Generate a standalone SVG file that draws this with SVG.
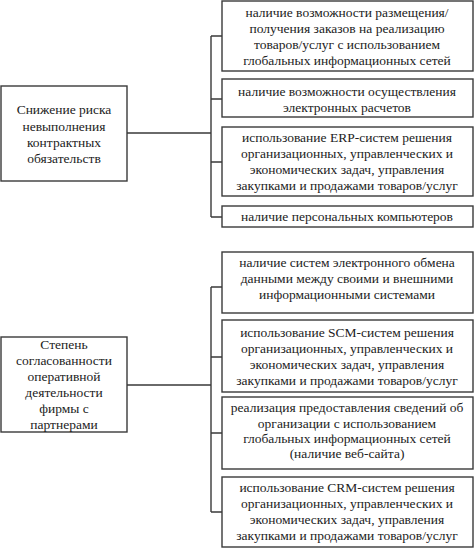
<svg xmlns="http://www.w3.org/2000/svg" width="474" height="550" viewBox="0 0 474 550">
<style>
rect{fill:#fff;stroke:#3a3a3a;stroke-width:1.4}
text{font-family:"Liberation Serif","Times New Roman",serif;font-size:13.5px;fill:#222;text-anchor:middle}
.c{fill:none;stroke:#3a3a3a;stroke-width:1.4}
</style>
<rect x="0" y="0" width="474" height="550" style="stroke:none"/>
<g id="connectors">
<path class="c" d="M127,133H211M211,36V217M211,36H222M211,99H222M211,162H222M211,217H222"/>
<path class="c" d="M127,385H211M211,287V512M211,287H222M211,357H222M211,433H222M211,512H222"/>
</g>
<g id="left1"><rect x="1" y="86" width="126" height="95"/>
<text x="64" y="114">Снижение риска</text><text x="64" y="131">невыполнения</text><text x="64" y="147">контрактных</text><text x="64" y="163">обязательств</text></g>
<g id="b1"><rect x="222" y="1" width="251" height="70"/>
<text x="347" y="17">наличие возможности размещения/</text><text x="347" y="33">получения заказов на реализацию</text><text x="347" y="49">товаров/услуг с использованием</text><text x="347" y="65">глобальных информационных сетей</text></g>
<g id="b2"><rect x="222" y="79" width="251" height="38"/>
<text x="347" y="96">наличие возможности осуществления</text><text x="347" y="112">электронных расчетов</text></g>
<g id="b3"><rect x="222" y="127" width="251" height="69"/>
<text x="347" y="142">использование ERP-систем решения</text><text x="347" y="158">организационных, управленческих и</text><text x="347" y="174">экономических задач, управления</text><text x="347" y="190">закупками и продажами товаров/услуг</text></g>
<g id="b4"><rect x="222" y="206" width="251" height="21"/>
<text x="347" y="221">наличие персональных компьютеров</text></g>
<g id="left2"><rect x="1" y="337" width="126" height="95"/>
<text x="64" y="349">Степень</text><text x="64" y="365">согласованности</text><text x="64" y="381">оперативной</text><text x="64" y="397">деятельности</text><text x="64" y="413">фирмы с</text><text x="64" y="429">партнерами</text></g>
<g id="b5"><rect x="222" y="252" width="251" height="61"/>
<text x="347" y="267">наличие систем электронного обмена</text><text x="347" y="283">данными между своими и внешними</text><text x="347" y="299">информационными системами</text></g>
<g id="b6"><rect x="222" y="320" width="251" height="72"/>
<text x="347" y="337">использование SCM-систем решения</text><text x="347" y="353">организационных, управленческих и</text><text x="347" y="369">экономических задач, управления</text><text x="347" y="385">закупками и продажами товаров/услуг</text></g>
<g id="b7"><rect x="222" y="397" width="251" height="72"/>
<text x="347" y="412">реализация предоставления сведений об</text><text x="347" y="428">организации с использованием</text><text x="347" y="443">глобальных информационных сетей</text><text x="347" y="458">(наличие веб-сайта)</text></g>
<g id="b8"><rect x="222" y="477" width="251" height="70"/>
<text x="347" y="492">использование CRM-систем решения</text><text x="347" y="508">организационных, управленческих и</text><text x="347" y="524">экономических задач, управления</text><text x="347" y="540">закупками и продажами товаров/услуг</text></g>
</svg>
